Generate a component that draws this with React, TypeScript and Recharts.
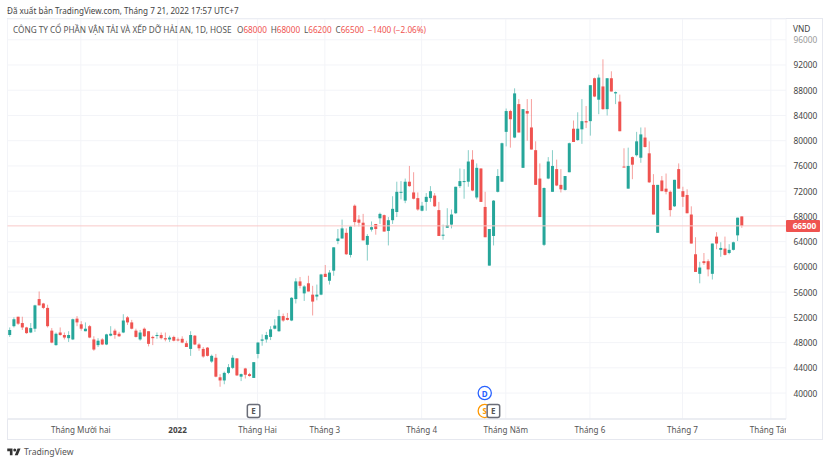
import React from "react";
import { ComposedChart, Bar, XAxis, YAxis, CartesianGrid, ReferenceLine, ReferenceDot } from "recharts";

const opens = [
49200,50600,52100,51100,50400,49600,50200,54900,54200,53500,
49900,47600,49600,49200,48700,48500,51800,50900,49800,50600,
48500,47600,48500,47700,49100,49900,49400,49600,52000,51200,
49900,48500,50200,49800,48900,49100,49200,48700,48500,48900,
48500,48600,47900,47000,49100,47700,47000,47200,45000,45600,
42500,42000,43200,44000,45500,42600,43900,43000,42400,46200,
48300,48500,48900,50200,49800,52200,51900,51500,54900,57700,
55800,57400,55600,55300,55600,58900,57800,59400,64100,64500,
65400,61900,69700,67500,67000,63500,65900,66800,67700,68200,
65700,67400,68700,71800,70500,73500,71800,70900,68900,70300,
70900,71300,69000,65000,66200,66700,68500,72800,73500,73500,
77000,71000,75600,69500,60200,64900,71900,73500,81400,84700,
80500,85800,75700,84700,82100,78500,74000,63500,74000,71900,
75500,73000,72200,75000,81900,80100,81800,83100,83100,89900,
86500,88600,85000,89900,87500,86200,75900,72400,77400,77700,
77300,80500,78000,73000,65400,73700,72400,71900,69600,75500,
72000,71400,68300,62000,58900,60900,60900,58900,64800,62700,
62900,62200,62700,65000,68000];
const highs = [
50400,52000,52100,52100,50500,51100,54000,56100,54300,54000,
50300,49600,50400,49600,49800,51800,52200,51400,51200,50800,
49000,48700,48700,49400,50600,50200,49700,52500,52200,51600,
50200,50000,50400,49800,49100,49600,49600,49600,49100,49100,
48800,49000,48300,49800,49200,47900,47300,47300,46100,46200,
43000,43400,44600,46000,45500,43100,44000,43200,44900,48100,
49300,49700,50600,51700,53200,52600,52700,55200,58200,58400,
57100,58600,57000,57200,58900,60300,59500,63100,66000,67500,
66100,66500,69900,68200,68400,65200,67200,66800,68600,68300,
67900,71200,73500,73600,74000,76000,75000,71800,70300,71700,
72800,71700,70300,66700,69300,69100,72700,75600,75500,78500,
78500,76400,75600,71900,66000,70600,75500,79700,85100,84900,
88300,86600,85000,86600,86600,79900,76400,72600,77400,78500,
77000,75500,74400,79700,83200,84500,86600,85500,88800,90000,
90500,92900,89900,91000,87800,87300,78800,78900,77500,81400,
82100,82100,79900,74700,73000,74400,74800,72100,73800,76400,
72700,72300,69600,64700,60800,62200,61200,63700,65500,63900,
64800,63600,64000,67800,68000];
const lows = [
48900,50400,50800,50000,49400,49500,49700,53900,53300,50400,
47900,47500,49100,48500,48100,48400,50600,49900,49800,48700,
46700,47300,47600,47600,49000,48600,48900,49500,50800,50100,
48800,48300,48900,47400,47600,48600,48500,48200,48100,48200,
48200,47900,47300,45900,47600,46700,45600,45800,44800,42500,
41000,41400,43000,43800,42700,41900,42300,42600,42400,45500,
47500,48000,48400,50100,49700,51300,51500,51400,54200,56600,
54600,56100,52300,54700,55500,58400,57200,58600,63600,64500,
61900,61500,66400,66400,64200,61000,65600,65100,66800,65600,
63400,66800,67900,70700,70100,72700,70700,68900,68800,68900,
70300,69500,64900,64300,66200,66100,68400,72500,70800,72700,
72000,70700,70300,64700,60200,63400,71800,73500,79100,78900,
80400,81300,75700,80000,78600,73000,67900,63300,73900,71900,
72800,71800,72100,75000,79800,80000,79500,82000,80800,86900,
84200,84900,84000,87800,85800,81500,75800,72400,73900,77500,
76500,78900,73300,68300,65400,72000,71500,68000,69500,72400,
69500,68500,63700,59200,57400,60300,58500,58000,62800,61600,
61800,62000,62600,64100,66200];
const closes = [
50000,51700,51000,50400,49500,50300,53900,53900,53500,50600,
48000,49400,49200,48800,49200,51700,51200,50200,50200,48800,
46900,48300,47700,49300,49400,49200,49000,51500,51200,50200,
48900,49600,49000,47800,48700,49200,48700,48500,48800,48300,
48400,48000,47300,49200,47700,47100,45800,45900,45900,42600,
42000,43200,44100,45600,42800,43000,42900,42700,44900,48000,
48500,49200,50100,50700,52200,51500,51600,55100,57700,57000,
56900,56100,54500,55600,58800,58400,59100,63100,64500,66100,
62000,66400,67100,67000,64200,64900,66300,66000,68400,65600,
67400,69200,71900,71900,73500,72800,70800,69100,69700,71100,
72000,69600,64900,65100,66600,68300,72700,73600,73600,76700,
72100,75700,70300,64700,66000,70500,74400,79600,84700,83400,
87500,81300,85000,84300,78600,73000,67900,72500,76700,76000,
72900,72300,74400,79600,79800,81900,83100,82900,88800,87000,
90000,85000,89900,87800,87700,81500,75800,76000,76200,79900,
81000,79000,73400,68300,73000,72000,71900,69000,73800,72400,
71100,68500,63700,59200,59900,60600,59600,63700,63700,63000,
61900,62700,63900,67800,66500];

const priceTicks = [40000,44000,48000,52000,56000,60000,64000,68000,72000,76000,80000,84000,88000,92000,96000];
const monthIndexes = [17,40,59,75,98,118,138,160,181];
const monthLabels = ["Tháng Mười hai","2022","Tháng Hai","Tháng 3","Tháng 4","Tháng Năm","Tháng 6","Tháng 7","Tháng Tám"];
const lastPrice = 66500;
const events = [
  { i: 58, price: 37160, label: "E", kind: "box" },
  { i: 113, price: 37160, label: "S", kind: "orange" },
  { i: 113, price: 40000, label: "D", kind: "blue" },
  { i: 115, price: 37160, label: "E", kind: "box" },
];

const UP = "#26a69a";
const DOWN = "#ef5350";
const FONT = "'Noto Sans', sans-serif";
const table = closes.map((c, i) => ({ i, open: opens[i], high: highs[i], low: lows[i], close: c }));

function Candle(props: any) {
  const { x, y, width, height, payload } = props;
  if (payload == null || !isFinite(y)) return null;
  const top = Math.min(y, y + height);
  const h = Math.abs(height);
  const k = h / Math.max(1, payload.high - payload.low);
  const bt = top + (payload.high - Math.max(payload.open, payload.close)) * k;
  const bb = top + (payload.high - Math.min(payload.open, payload.close)) * k;
  const color = payload.close >= payload.open ? UP : DOWN;
  const cx = x + width / 2;
  return (
    <g>
      <line x1={cx} x2={cx} y1={top} y2={top + h} stroke={color} strokeOpacity={0.55} strokeWidth={1} />
      <rect x={x} y={bt} width={width} height={Math.max(1, bb - bt)} fill={color} />
    </g>
  );
}

function TimeTick(props: any) {
  const { x, payload } = props;
  const idx = monthIndexes.indexOf(payload.value);
  const label = monthLabels[idx];
  return (
    <text x={x} y={429.5} dominantBaseline="central" textAnchor="middle" fontFamily={FONT} fontSize={8.1}
      fontWeight={label === "2022" ? 700 : 400} fill={label === "2022" ? "#444" : "#555"} clipPath="url(#paneClip)">
      {label}
    </text>
  );
}

function PriceTick(props: any) {
  const { y, payload } = props;
  return (
    <text x={793.5} y={y} dominantBaseline="central" fontFamily={FONT} fontSize={8.3}
      fill={payload.value === 96000 ? "#999" : "#444"}>
      {payload.value}
    </text>
  );
}

function PriceTag(props: any) {
  const { viewBox } = props;
  return (
    <g>
      <rect x={786} y={viewBox.y - 6} width={34} height={12} rx={1} fill={DOWN} />
      <text x={804.5} y={viewBox.y} dominantBaseline="central" textAnchor="middle" fontFamily={FONT} fontSize={8.3} fontWeight={700} fill="#fff">
        {lastPrice}
      </text>
    </g>
  );
}

function EventMark(props: any, ev: any) {
  const { cx, cy } = props;
  if (ev.kind === "box") {
    return (
      <g>
        <rect x={cx - 6} y={cy - 6.5} width={12.5} height={13} rx={2} fill="#fff" stroke="#6a6d78" strokeWidth={1.5} />
        <text x={cx + 0.2} y={cy} dominantBaseline="central" textAnchor="middle" fontFamily={FONT} fontSize={8} fontWeight={700} fill="#555">{ev.label}</text>
      </g>
    );
  }
  const color = ev.kind === "blue" ? "#2962ff" : "#ff9800";
  return (
    <g>
      <circle cx={cx} cy={cy} r={6.6} fill="#fff" stroke={color} strokeWidth={1.3} />
      <text x={cx} y={cy} dominantBaseline="central" textAnchor="middle" fontFamily={FONT} fontSize={8} fontWeight={700} fill={color}>{ev.label}</text>
    </g>
  );
}

export default function App() {
  const gap = { marginLeft: 3.8 };
  return (
    <div style={{ position: "absolute", left: 0, top: 0, width: 830, height: 464, background: "#fff", overflow: "hidden", fontFamily: FONT }}>
      <div style={{ position: "absolute", left: 7, top: 18, width: 816, height: 422, boxSizing: "border-box", border: "1px solid #e6e8ef" }} />
      <div style={{ position: "absolute", left: 0, top: 0 }}>
        <ComposedChart width={830} height={464} data={table} margin={{ top: 19, right: 8, bottom: 25, left: 7.5 }}>
          <defs>
            <clipPath id="paneClip"><rect x={7} y={400} width={779} height={50} /></clipPath>
          </defs>
          <CartesianGrid stroke="#f3f4f8" strokeWidth={1} />
          <XAxis type="number" dataKey="i" domain={[-0.43, 184.6]} allowDataOverflow ticks={monthIndexes} interval={0}
            height={20} tickLine={false} axisLine={{ stroke: "#e6e8ef", strokeWidth: 1.5 }} tick={TimeTick} />
          <YAxis orientation="right" domain={[35890, 99290]} allowDataOverflow ticks={priceTicks} interval={0}
            width={36} tickLine={false} axisLine={false} tick={PriceTick} />
          <ReferenceLine y={lastPrice} stroke="#f9c9c8" strokeWidth={1} label={PriceTag} />
          <Bar dataKey={(d: any) => [d.low, d.high]} barSize={3} shape={Candle} isAnimationActive={false} />
          {events.map((ev, n) => (
            <ReferenceDot key={n} x={ev.i} y={ev.price} r={6} ifOverflow="visible" shape={(p: any) => EventMark(p, ev)} />
          ))}
        </ComposedChart>
      </div>
      <div style={{ position: "absolute", left: 7, top: 4, fontSize: 8.1, lineHeight: "14px", color: "#444", whiteSpace: "nowrap" }}>
        Đã xuất bản TradingView.com, Tháng 7 21, 2022 17:57 UTC+7
      </div>
      <div style={{ position: "absolute", left: 13, top: 23, fontSize: 8.2, lineHeight: "14px", color: "#555", whiteSpace: "nowrap" }}>
        CÔNG TY CỔ PHẦN VẬN TẢI VÀ XẾP DỠ HẢI AN, 1D, HOSE
        <span style={{ marginLeft: 5.5 }}>O<span style={{ color: DOWN }}>68000</span></span>
        <span style={gap}>H<span style={{ color: DOWN }}>68000</span></span>
        <span style={gap}>L<span style={{ color: DOWN }}>66200</span></span>
        <span style={gap}>C<span style={{ color: DOWN }}>66500</span></span>
        <span style={{ ...gap, color: DOWN }}>−1400 (−2.06%)</span>
      </div>
      <div style={{ position: "absolute", left: 793, top: 22, fontSize: 8.3, lineHeight: "14px", color: "#444" }}>VND</div>
      <svg style={{ position: "absolute", left: 7, top: 447 }} width={14} height={9} viewBox="0 0 36 24">
        <path d="M14 22H7V11H0V4h14v18zM28 22h-8l7.5-18h8L28 22z" fill="#333" />
        <circle cx={20} cy={8} r={4} fill="#333" />
      </svg>
      <div style={{ position: "absolute", left: 24, top: 445, fontSize: 8.6, lineHeight: "14px", color: "#555" }}>TradingView</div>
    </div>
  );
}
